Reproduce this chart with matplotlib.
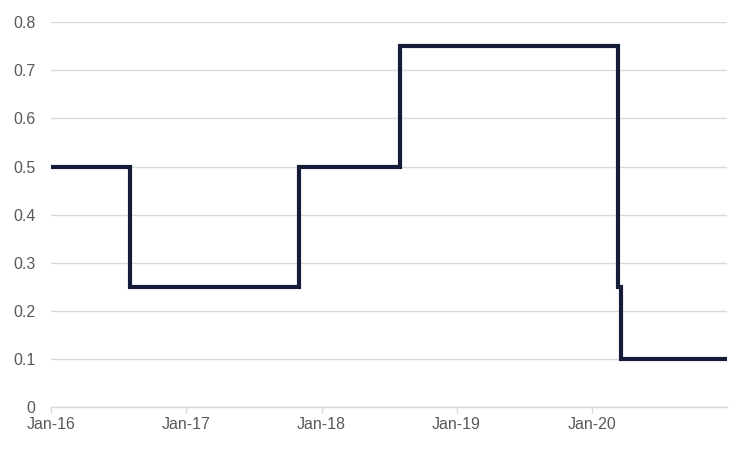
import matplotlib
matplotlib.use('Agg')
import matplotlib.pyplot as plt
import matplotlib.dates as mdates
import pandas as pd

plt.rcParams['font.family'] = ['Liberation Sans', 'DejaVu Sans']

# rate changes (step, held until next date)
change_dates = ['2016-01-01', '2016-08-01', '2017-11-02', '2018-08-02',
                '2020-03-11', '2020-03-19', '2020-12-31']
rates = [0.5, 0.25, 0.5, 0.75, 0.25, 0.1, 0.1]
tick_dates = ['2016-01-01', '2017-01-01', '2018-01-01', '2019-01-01', '2020-01-01']
y_ticks = [0, 0.1, 0.2, 0.3, 0.4, 0.5, 0.6, 0.7, 0.8]

dates = pd.to_datetime(change_dates)

fig = plt.figure(figsize=(7.5, 4.5), dpi=100)
ax = fig.add_axes([0.068, 0.0956, 0.901, 0.855])

ax.step(dates, rates, where='post', color='#141c3a', linewidth=3,
        solid_joinstyle='miter', zorder=3)

ax.set_xlim(dates[0], dates[-1])
ax.set_ylim(0, 0.8)
ax.set_yticks(y_ticks)
ax.set_yticklabels(['0' if v == 0 else f'{v:.1f}' for v in y_ticks])
ax.set_xticks(pd.to_datetime(tick_dates))
ax.xaxis.set_major_formatter(mdates.DateFormatter('%b-%y'))

ax.grid(axis='y', color='#d9d9d9', linewidth=1)
ax.set_axisbelow(True)
for s in ['top', 'right', 'left']:
    ax.spines[s].set_visible(False)
ax.spines['bottom'].set_color('#d9d9d9')
ax.spines['bottom'].set_linewidth(1)

ax.tick_params(axis='y', length=0, pad=11, labelsize=11.5, labelcolor='#595959')
ax.tick_params(axis='x', length=4, color='#d9d9d9', width=1, pad=3,
               labelsize=11.5, labelcolor='#595959')

fig.savefig('out.png', dpi=100)
